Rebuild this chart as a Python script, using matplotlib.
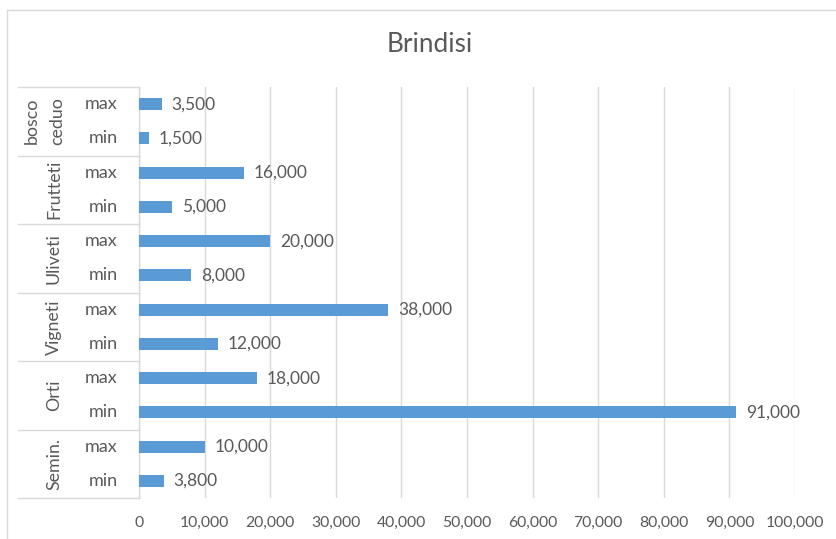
import matplotlib
matplotlib.use("Agg")
import matplotlib.pyplot as plt
from matplotlib.lines import Line2D

plt.rcParams['font.family'] = ['Lato', 'DejaVu Sans']

groups = ["bosco\nceduo", "Frutteti", "Uliveti", "Vigneti", "Orti", "Semin."]
levels = ["max", "min"]
values = [3500, 1500, 16000, 5000, 20000, 8000, 38000, 12000, 18000, 91000, 10000, 3800]
xticks = list(range(0, 100001, 10000))

W, H = 836, 539
fig = plt.figure(figsize=(W / 100, H / 100), dpi=100)
ax = fig.add_axes([139 / W, 1 - 498 / H, 656 / W, 411 / H])

bar_color = "#5B9BD5"
text_color = "#595959"
grid_color = "#D9D9D9"

n = len(values)
ypos = list(range(n))
ax.barh(ypos, values, height=0.35, color=bar_color, zorder=3)
ax.set_ylim(n - 0.5, -0.5)
ax.set_xlim(0, 100000)
ax.set_xticks(xticks)
ax.set_xticklabels([f"{t:,}" for t in xticks], color=text_color, fontsize=11.3)
ax.tick_params(axis='x', length=0, pad=13)
ax.set_yticks([])
ax.grid(axis='x', color=grid_color, linewidth=1, zorder=0)
for s in ["top", "right", "bottom"]:
    ax.spines[s].set_visible(False)
ax.spines["left"].set_color(grid_color)
ax.spines["left"].set_linewidth(1)

for y, v in zip(ypos, values):
    ax.annotate(f"{v:,}", (v, y), xytext=(7, 0), textcoords="offset points",
                va="center", ha="left", fontsize=12.5, color=text_color)

# multi-level category axis
def fx(px):
    return (px - 139) / 656

trans = ax.get_yaxis_transform()
for i in range(n):
    ax.text(fx(118), i, levels[i % 2], transform=trans, ha="right", va="center",
            fontsize=13, color=text_color, clip_on=False)

bounds = [-0.5 + 2 * k for k in range(len(groups) + 1)]
for b in bounds:
    ax.add_line(Line2D([fx(18), 0], [b, b], transform=trans, color=grid_color,
                       linewidth=1, clip_on=False))

for g, name in enumerate(groups):
    yc = 2 * g + 0.5
    if "\n" in name:
        a, b = name.split("\n")
        ax.text(fx(32), yc, a, transform=trans, rotation=90, ha="center", va="center",
                fontsize=12.8, color=text_color, clip_on=False)
        ax.text(fx(57), yc, b, transform=trans, rotation=90, ha="center", va="center",
                fontsize=12.8, color=text_color, clip_on=False)
    else:
        ax.text(fx(54), yc, name, transform=trans, rotation=90, ha="center", va="center",
                fontsize=12.8, color=text_color, clip_on=False)

# chart frame (left and top)
fig.add_artist(Line2D([7 / W, 7 / W], [0, 1 - 10 / H], color=grid_color, linewidth=1))
fig.add_artist(Line2D([7 / W, 1], [1 - 10 / H, 1 - 10 / H], color=grid_color, linewidth=1))

fig.text(430 / W, 1 - 45 / H, "Brindisi", ha="center", va="center",
         fontsize=18.8, color=text_color)

fig.savefig("out.png", dpi=100, facecolor="white")
